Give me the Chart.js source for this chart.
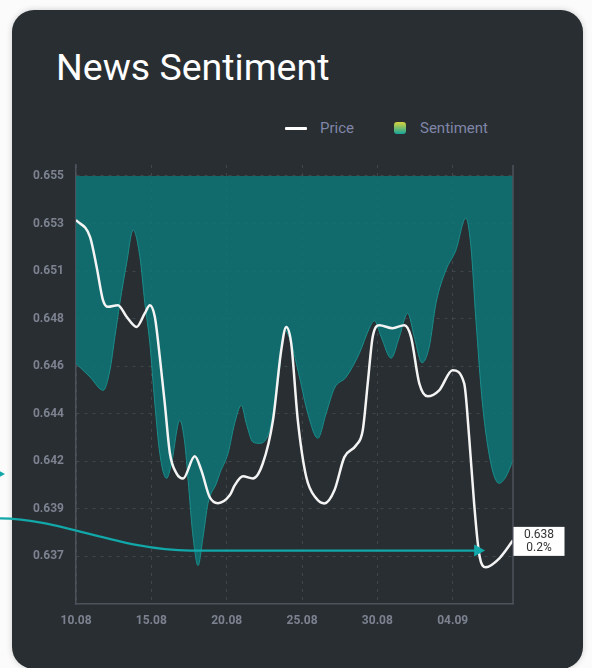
<!DOCTYPE html>
<html>
<head>
<meta charset="utf-8">
<script src="https://cdn.jsdelivr.net/npm/chart.js@4.4.1/dist/chart.umd.min.js"></script>
<style>
  html, body { margin: 0; padding: 0; }
  body { width: 592px; height: 668px; background: #fbfbfb; position: relative; overflow: hidden; font-family: Roboto, "Noto Sans", sans-serif; }
  .card { position: absolute; left: 12px; top: 10px; width: 571px; height: 659px; background: #282e31; border-radius: 22px; box-shadow: 0 0 6px rgba(0,0,0,0.18); }
  .title { position: absolute; left: 56px; top: 49px; font-size: 37.5px; line-height: 37px; color: #ffffff; font-weight: 400; }
  .legend { position: absolute; top: 118px; height: 20px; display: flex; align-items: center; font-size: 15px; color: #8086a8; }
  .legend .line { width: 22px; height: 3px; background: #fff; border-radius: 1px; }
  .legend .box { width: 12px; height: 12px; border-radius: 3px; background: linear-gradient(#d9d33c, #15a59b); }
  canvas { position: absolute; left: 0; top: 0; }
</style>
</head>
<body>
<div class="card"></div>
<div class="title">News Sentiment</div>
<div class="legend" style="left:285px"><span class="line"></span></div>
<div class="legend" style="left:320px">Price</div>
<div class="legend" style="left:394px"><span class="box"></span></div>
<div class="legend" style="left:420px">Sentiment</div>
<canvas id="chart" width="592" height="668"></canvas>
<script>
// x positions are days since 10.08
const xTickValues = [0, 5, 10, 15, 20, 25];
const xTickLabels = ['10.08', '15.08', '20.08', '25.08', '30.08', '04.09'];
const yTickValues = [0.655, 0.65275, 0.6505, 0.64825, 0.646, 0.64375, 0.6415, 0.63925, 0.637];
const yTickLabels = ['0.655', '0.653', '0.651', '0.648', '0.646', '0.644', '0.642', '0.639', '0.637'];

const priceDays = [0, 0.93, 1.37, 1.79, 2.12, 2.78, 3.36, 4.02, 4.57, 4.90, 5.23, 5.56, 5.89, 6.23, 6.67,
  7.11, 7.88, 8.32, 8.87, 9.42, 10.2, 10.53, 11.08, 11.74, 12.4, 13.07, 13.62, 13.95, 14.28, 14.72,
  15.28, 15.94, 16.49, 17.15, 17.81, 18.59, 19.03, 19.36, 19.69, 20.13, 21.01, 21.79, 22.23, 22.78,
  23.33, 24.1, 24.99, 25.76, 26.09, 26.42, 26.75, 27.2, 28.08, 29];
const price = [0.65292, 0.65212, 0.65070, 0.64913, 0.64881, 0.64889, 0.64834, 0.64786, 0.64851, 0.64889,
  0.64834, 0.64644, 0.64425, 0.64188, 0.64093, 0.64069, 0.64174, 0.64107, 0.63981, 0.63952,
  0.63989, 0.64036, 0.64079, 0.64069, 0.64141, 0.64344, 0.64676, 0.64786, 0.64709, 0.64344,
  0.64076, 0.63975, 0.63951, 0.64013, 0.64170, 0.64226, 0.64297, 0.64519, 0.64739, 0.64794,
  0.64780, 0.64794, 0.64739, 0.64519, 0.64458, 0.64486, 0.64581, 0.64519, 0.64265, 0.63951,
  0.63714, 0.63649, 0.63690, 0.63776];

const sentDays = [0, 0.93, 1.81, 2.25, 2.58, 2.91, 3.36, 3.79, 4.24, 4.57, 4.90, 5.23, 5.56, 6.01, 6.34,
  6.89, 7.22, 7.44, 7.77, 8.1, 8.43, 8.76, 9.32, 9.54, 10.09, 10.53, 10.97, 11.3, 11.74, 12.19,
  12.85, 13.4, 13.84, 14.28, 14.83, 15.38, 16.05, 16.6, 17.15, 17.93, 18.81, 19.47, 19.8, 20.25,
  20.91, 21.46, 22.01, 22.45, 22.96, 23.44, 23.89, 24.55, 25.21, 25.87, 26.21, 26.54, 26.97,
  27.53, 28.08, 28.52, 29];
const sentiment = [0.64613, 0.64549, 0.64486, 0.64581, 0.64739, 0.64898, 0.65088, 0.65244, 0.65118, 0.64898,
  0.64709, 0.64425, 0.64188, 0.64069, 0.64141, 0.64344, 0.64235, 0.64060, 0.63791, 0.63657,
  0.63791, 0.63951, 0.64046, 0.64093, 0.64188, 0.64330, 0.64415, 0.64330, 0.64241, 0.64235,
  0.64297, 0.64519, 0.64771, 0.64709, 0.64549, 0.64377, 0.64259, 0.64377, 0.64496, 0.64549,
  0.64662, 0.64780, 0.64815, 0.64739, 0.64638, 0.64739, 0.64851, 0.64739, 0.64616, 0.64691,
  0.64898, 0.65055, 0.65149, 0.65301, 0.65165, 0.64818, 0.64425, 0.64141, 0.64046, 0.64076,
  0.64155];

// annotation: arrow pointing at the low, and the last-value tag
const arrowStartValue = 0.6388;
const arrowValue = 0.63728;
const arrowBendDay = 7.6;
const arrowTipDay = 27.15;
const markerValue = 0.6409;
const lastChange = '0.2%';

const axisColor = '#4c525c';
const gridColor = '#3f464c';
const teal = '#12a7a8';

const extras = {
  id: 'extras',
  afterDatasetsDraw(chart) {
    const { ctx, chartArea, scales: { x, y } } = chart;
    ctx.save();
    // right frame line
    ctx.strokeStyle = axisColor;
    ctx.lineWidth = 1.5;
    ctx.beginPath();
    ctx.moveTo(chartArea.right, chartArea.top);
    ctx.lineTo(chartArea.right, chartArea.bottom);
    ctx.stroke();

    // curved arrow from the left edge
    const y0 = y.getPixelForValue(arrowStartValue);
    const y1 = y.getPixelForValue(arrowValue);
    const xb = x.getPixelForValue(arrowBendDay);
    const xt = x.getPixelForValue(arrowTipDay);
    ctx.strokeStyle = teal;
    ctx.fillStyle = teal;
    ctx.lineWidth = 2.2;
    ctx.beginPath();
    ctx.moveTo(0, y0);
    ctx.bezierCurveTo(xb * 0.32, y0, xb * 0.63, y1, xb, y1);
    ctx.lineTo(xt - 9, y1);
    ctx.stroke();
    ctx.beginPath();
    ctx.moveTo(xt, y1);
    ctx.lineTo(xt - 11, y1 - 6);
    ctx.lineTo(xt - 11, y1 + 6);
    ctx.closePath();
    ctx.fill();

    // small marker cut off at the left edge
    const ym = y.getPixelForValue(markerValue);
    ctx.beginPath();
    ctx.moveTo(5, ym);
    ctx.lineTo(-6, ym - 6);
    ctx.lineTo(-6, ym + 6);
    ctx.closePath();
    ctx.fill();

    // last value tag
    const last = price[price.length - 1];
    const yl = y.getPixelForValue(last);
    const bx = chartArea.right + 0.5, bw = 51, bh = 29;
    ctx.fillStyle = '#ffffff';
    ctx.fillRect(bx, yl - bh / 2 + 1, bw, bh);
    ctx.fillStyle = '#333';
    ctx.font = '12px Roboto';
    ctx.textAlign = 'center';
    ctx.textBaseline = 'middle';
    ctx.fillText(last.toFixed(3), bx + bw / 2, yl - 5);
    ctx.fillText(lastChange, bx + bw / 2, yl + 8);
    ctx.restore();
  }
};

const ctx = document.getElementById('chart').getContext('2d');
new Chart(ctx, {
  type: 'line',
  data: {
    datasets: [
      {
        label: 'Price',
        data: priceDays.map((d, i) => ({ x: d, y: price[i] })),
        borderColor: '#f4f4f4',
        borderWidth: 2.5,
        pointRadius: 0,
        cubicInterpolationMode: 'monotone',
        fill: false
      },
      {
        label: 'Sentiment',
        data: sentDays.map((d, i) => ({ x: d, y: sentiment[i] })),
        borderColor: '#1b8d8c',
        borderWidth: 1,
        backgroundColor: 'rgba(14, 118, 118, 0.86)',
        pointRadius: 0,
        cubicInterpolationMode: 'monotone',
        fill: { value: 0.655 }
      }
    ]
  },
  options: {
    responsive: false,
    animation: false,
    events: [],
    layout: { padding: { left: 0, right: 79, top: 165, bottom: 0 } },
    plugins: {
      legend: { display: false },
      tooltip: { enabled: false }
    },
    scales: {
      x: {
        type: 'linear',
        min: 0,
        max: 29,
        afterBuildTicks: s => { s.ticks = xTickValues.map(v => ({ value: v })); },
        afterFit: s => { s.height = 64; },
        ticks: {
          padding: 10,
          color: '#7c8290',
          font: { family: 'Roboto', size: 12, weight: 'bold' },
          callback: (v, i) => xTickLabels[i]
        },
        grid: { color: gridColor, drawTicks: false, lineWidth: 1 },
        border: { color: axisColor, width: 1.5, dash: [3, 5] }
      },
      y: {
        min: 0.63475,
        max: 0.65552,
        afterBuildTicks: s => { s.ticks = yTickValues.map(v => ({ value: v })); },
        afterFit: s => { s.width = 76; },
        ticks: {
          padding: 12,
          color: '#7c8290',
          font: { family: 'Roboto', size: 12, weight: 'bold' },
          callback: (v, i) => yTickLabels[i]
        },
        grid: { color: gridColor, drawTicks: false, lineWidth: 1 },
        border: { color: axisColor, width: 1.5, dash: [3, 5] }
      }
    }
  },
  plugins: [extras]
});
</script>
</body>
</html>
